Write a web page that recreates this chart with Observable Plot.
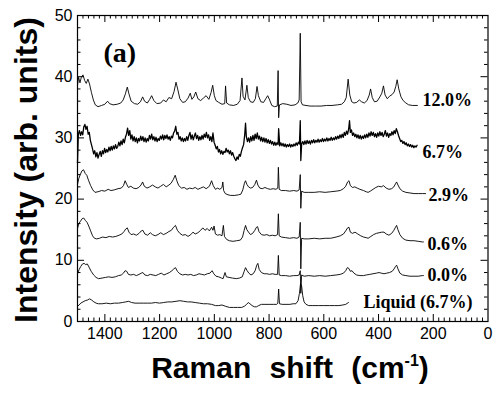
<!DOCTYPE html>
<html><head><meta charset="utf-8">
<script src="https://cdn.jsdelivr.net/npm/d3@7"></script>
<script src="https://cdn.jsdelivr.net/npm/@observablehq/plot@0.6"></script>
<style>body{margin:0;background:#fff;}</style>
</head><body><div id="chart"></div>
<script>
const trace12 = [[1500,38.6],[1496,39.9],[1491,39.0],[1486,39.9],[1480,40.3],[1474,39.4],[1468,38.9],[1462,39.6],[1456,38.8],[1449,37.4],[1442,36.2],[1435,35.4],[1425,35.1],[1412,35.3],[1400,35.5],[1390,36.0],[1383,35.6],[1370,35.4],[1355,35.5],[1342,35.7],[1333,36.2],[1325,37.2],[1318,38.3],[1312,37.2],[1304,36.0],[1292,35.6],[1280,35.5],[1270,35.9],[1262,36.7],[1255,36.0],[1245,35.7],[1236,36.3],[1229,36.9],[1221,36.1],[1210,35.6],[1196,35.7],[1186,36.2],[1176,35.9],[1166,36.6],[1156,36.4],[1147,37.6],[1140,39.1],[1134,38.0],[1126,36.4],[1116,35.8],[1106,35.9],[1096,36.5],[1088,37.3],[1082,36.3],[1075,36.7],[1068,37.5],[1060,36.4],[1050,36.1],[1040,36.5],[1030,36.9],[1020,36.3],[1012,37.4],[1006,38.6],[1000,36.9],[994,36.1],[984,35.8],[972,35.5],[962,35.6],[959,38.5],[955,35.7],[945,35.4],[930,35.3],[916,35.5],[906,36.1],[899,39.8],[895,36.8],[888,36.2],[881,38.6],[876,36.6],[868,35.9],[858,35.8],[850,36.4],[844,38.4],[839,36.9],[830,35.9],[820,35.8],[812,36.4],[805,36.9],[798,36.2],[790,35.3],[780,35.1],[770,35.2],[767,41.0],[765,33.3],[762,35.4],[750,35.6],[735,35.5],[720,35.3],[705,35.4],[695,35.7],[690,36.2],[686,47.1],[683,35.9],[678,35.4],[665,35.3],[650,35.2],[630,35.2],[610,35.2],[590,35.3],[570,35.3],[550,35.4],[535,35.5],[525,35.9],[518,36.6],[511,39.6],[505,37.0],[498,35.9],[490,35.7],[480,35.8],[470,36.2],[462,35.9],[452,35.7],[442,36.1],[434,37.0],[429,38.0],[423,36.6],[415,35.9],[405,36.0],[395,36.7],[388,37.3],[382,38.5],[376,37.0],[368,36.4],[360,36.8],[350,37.1],[343,37.5],[337,38.4],[332,39.5],[326,38.0],[318,36.7],[310,36.1],[300,35.7],[290,35.4],[275,35.3],[258,35.3]];

const trace67 = [[1500,25.9],[1497,30.6],[1493,31.2],[1489,30.4],[1485,31.0],[1481,30.5],[1477,31.8],[1473,32.2],[1469,31.4],[1465,31.9],[1461,30.6],[1457,30.9],[1453,29.6],[1449,28.9],[1445,28.2],[1441,27.4],[1437,27.9],[1433,26.9],[1429,27.6],[1425,26.7],[1421,27.3],[1417,27.8],[1413,27.0],[1409,27.9],[1405,27.4],[1401,28.3],[1397,27.6],[1393,28.1],[1389,27.7],[1385,28.5],[1381,27.9],[1377,28.6],[1373,28.0],[1369,28.7],[1365,28.2],[1361,28.9],[1357,28.3],[1353,28.6],[1349,29.3],[1345,28.7],[1341,29.5],[1337,28.9],[1333,29.8],[1329,29.2],[1325,30.1],[1321,30.6],[1317,31.6],[1313,30.4],[1309,31.2],[1305,29.8],[1301,30.5],[1297,29.5],[1293,30.2],[1289,29.4],[1285,30.0],[1281,29.2],[1277,29.9],[1273,29.5],[1269,30.3],[1265,29.6],[1261,30.2],[1257,29.4],[1253,30.0],[1249,29.3],[1245,29.9],[1241,29.5],[1237,30.4],[1233,29.8],[1229,30.6],[1225,29.7],[1221,30.2],[1217,29.5],[1213,30.1],[1209,29.4],[1205,29.9],[1201,29.6],[1197,30.3],[1193,29.8],[1189,30.5],[1185,29.7],[1181,30.4],[1177,29.9],[1173,30.5],[1169,29.8],[1165,30.2],[1161,29.6],[1157,30.3],[1153,30.0],[1149,30.8],[1145,31.1],[1141,31.9],[1137,30.6],[1133,30.9],[1129,29.8],[1125,30.2],[1121,29.5],[1117,30.0],[1113,29.4],[1109,29.9],[1105,29.5],[1101,30.2],[1097,29.6],[1093,30.4],[1089,30.9],[1085,29.8],[1081,30.5],[1077,29.7],[1073,30.3],[1069,30.8],[1065,29.9],[1061,30.4],[1057,29.6],[1053,30.2],[1049,29.7],[1045,30.4],[1041,29.8],[1037,30.6],[1033,30.1],[1029,30.9],[1025,30.0],[1021,30.5],[1017,29.6],[1013,30.2],[1009,29.4],[1005,30.8],[1001,29.3],[997,28.8],[993,28.2],[989,28.6],[985,27.7],[981,28.1],[977,27.4],[973,27.9],[969,27.3],[965,27.8],[961,27.6],[957,28.3],[953,27.7],[949,28.0],[945,27.4],[941,27.9],[937,27.2],[933,27.6],[929,27.0],[925,26.6],[921,26.3],[917,26.9],[913,26.5],[909,27.3],[905,27.0],[901,27.8],[897,28.4],[893,28.9],[889,30.5],[886,32.4],[883,30.2],[879,29.4],[875,30.0],[871,29.3],[867,30.2],[863,29.5],[859,30.4],[855,29.6],[851,30.6],[847,29.9],[843,30.8],[839,29.8],[835,30.3],[831,29.5],[827,30.1],[823,29.4],[819,30.0],[815,29.3],[811,29.9],[807,29.2],[803,29.7],[799,29.1],[795,29.6],[791,29.0],[787,29.4],[783,28.8],[779,29.3],[775,28.8],[771,29.2],[767,28.9],[765,31.5],[761,28.7],[757,29.2],[753,28.7],[749,29.1],[745,28.6],[741,29.0],[737,28.5],[733,28.9],[729,28.6],[725,29.0],[721,28.5],[717,28.9],[713,28.6],[709,29.0],[705,28.7],[701,29.2],[697,28.8],[693,29.3],[689,29.0],[686,32.8],[684,26.3],[681,29.0],[677,29.4],[673,28.9],[669,29.5],[665,29.0],[661,29.6],[657,29.1],[653,29.5],[649,29.0],[645,29.6],[641,29.2],[637,29.7],[633,29.2],[629,29.6],[625,29.3],[621,29.8],[617,29.3],[613,29.7],[609,29.4],[605,29.9],[601,29.4],[597,29.8],[593,29.5],[589,30.0],[585,29.5],[581,29.9],[577,29.6],[573,30.1],[569,29.6],[565,30.0],[561,29.7],[557,30.2],[553,29.8],[549,30.3],[545,29.9],[541,30.5],[537,30.0],[533,30.6],[529,30.1],[525,30.9],[521,30.4],[517,31.1],[513,30.6],[509,31.5],[506,32.8],[503,30.9],[499,31.3],[495,30.4],[491,30.8],[487,30.2],[483,30.6],[479,30.0],[475,30.5],[471,29.9],[467,30.4],[463,29.8],[459,30.3],[455,29.9],[451,30.5],[447,30.0],[443,30.6],[439,30.1],[435,30.8],[431,30.3],[427,31.0],[423,30.4],[419,30.9],[415,30.2],[411,30.7],[407,30.1],[403,30.8],[399,30.3],[395,31.0],[391,30.4],[387,30.9],[383,30.2],[379,30.6],[375,31.2],[371,30.3],[367,30.8],[363,30.1],[359,30.7],[355,30.4],[351,31.0],[347,30.5],[343,31.2],[339,30.7],[335,31.5],[331,31.0],[327,30.4],[323,29.9],[319,29.4],[315,29.6],[311,29.1],[307,29.4],[303,28.9],[299,29.2],[295,28.7],[291,29.0],[287,28.6],[283,28.9],[279,28.5],[275,28.8],[271,28.4],[267,28.7],[263,28.5],[259,28.8]];

const trace29 = [[1500,22.4],[1495,23.4],[1490,24.0],[1484,24.6],[1478,24.8],[1472,24.2],[1466,23.9],[1460,23.1],[1452,22.2],[1444,21.5],[1436,21.1],[1425,21.2],[1412,21.4],[1400,21.3],[1388,21.6],[1378,21.4],[1366,21.5],[1352,21.7],[1340,21.8],[1332,22.2],[1326,23.0],[1320,22.4],[1314,21.9],[1305,22.1],[1296,21.8],[1286,21.7],[1276,21.9],[1268,22.3],[1262,22.8],[1256,22.1],[1246,21.8],[1236,22.0],[1226,22.3],[1216,22.0],[1206,21.8],[1196,22.1],[1186,22.4],[1176,22.0],[1166,22.3],[1158,22.6],[1150,23.2],[1143,23.9],[1137,23.0],[1130,22.2],[1120,21.8],[1110,21.9],[1100,21.6],[1090,21.8],[1080,21.7],[1070,21.9],[1060,21.6],[1050,21.8],[1040,22.0],[1030,21.7],[1018,22.1],[1010,23.0],[1004,22.2],[996,21.6],[988,21.8],[980,21.6],[972,21.9],[969,22.8],[966,21.4],[960,20.9],[950,20.7],[940,20.6],[925,20.6],[912,20.7],[903,20.8],[896,21.5],[890,22.6],[886,23.0],[881,22.4],[875,22.0],[868,21.8],[860,21.9],[852,22.4],[846,23.1],[841,22.3],[834,21.8],[825,21.7],[815,21.9],[805,21.7],[795,21.6],[785,21.7],[775,21.6],[768,21.8],[766,25.2],[763,21.6],[755,21.4],[740,21.4],[725,21.3],[710,21.4],[698,21.3],[690,21.5],[686,24.0],[684,18.5],[681,21.3],[672,21.1],[655,21.1],[635,21.1],[615,21.2],[595,21.1],[575,21.2],[555,21.3],[540,21.4],[528,21.7],[520,22.1],[513,22.8],[508,23.0],[503,22.2],[495,21.9],[487,22.0],[478,21.8],[468,21.6],[455,21.4],[445,21.2],[438,21.1],[430,21.3],[420,21.6],[410,21.9],[400,22.1],[390,22.0],[382,22.2],[372,21.8],[362,21.6],[352,21.7],[344,22.0],[338,22.5],[334,22.8],[329,22.3],[322,21.7],[312,21.3],[300,21.1],[285,21.0],[270,20.9],[255,20.9],[240,20.9],[228,20.9]];

const trace06 = [[1500,15.2],[1495,16.0],[1489,16.4],[1483,16.8],[1477,16.9],[1471,16.5],[1465,16.2],[1459,15.6],[1452,14.8],[1445,14.0],[1438,13.6],[1430,13.5],[1420,13.6],[1408,13.8],[1396,13.7],[1384,13.9],[1372,13.8],[1360,13.9],[1348,14.1],[1338,14.3],[1330,14.7],[1324,15.1],[1318,15.3],[1312,14.6],[1304,14.2],[1295,14.3],[1285,14.1],[1275,14.4],[1267,14.8],[1261,14.9],[1254,14.3],[1244,14.1],[1234,14.5],[1226,14.2],[1216,14.0],[1206,14.2],[1196,14.5],[1186,14.2],[1176,14.4],[1166,14.7],[1157,14.9],[1149,15.4],[1142,15.7],[1135,14.9],[1126,14.4],[1116,14.1],[1106,14.2],[1096,13.9],[1086,14.2],[1078,14.6],[1070,14.3],[1060,14.5],[1050,14.9],[1042,15.3],[1034,14.9],[1026,15.2],[1018,14.8],[1010,15.4],[1005,14.9],[1001,15.6],[996,14.3],[988,14.1],[980,14.2],[972,14.0],[967,15.7],[963,13.9],[955,13.4],[945,13.2],[932,13.1],[918,13.2],[905,13.3],[897,13.8],[891,14.9],[886,15.7],[881,15.0],[875,14.6],[868,14.2],[860,14.4],[852,14.9],[846,15.4],[842,15.5],[837,14.7],[828,14.2],[818,14.1],[808,14.2],[798,14.0],[788,14.1],[778,14.0],[769,14.2],[766,17.6],[763,14.0],[755,13.8],[740,13.7],[725,13.6],[710,13.7],[698,13.6],[690,13.8],[686,16.2],[684,8.6],[681,13.6],[672,13.5],[655,13.5],[635,13.6],[615,13.5],[595,13.6],[575,13.6],[555,13.8],[540,14.0],[528,14.3],[520,14.8],[513,15.3],[508,15.4],[503,14.6],[495,14.4],[486,14.6],[476,14.3],[465,14.0],[455,13.8],[445,13.7],[438,13.6],[428,13.9],[418,14.2],[408,14.4],[398,14.5],[388,14.6],[380,14.6],[372,14.3],[362,14.1],[352,14.4],[344,14.9],[338,15.4],[334,15.7],[329,15.0],[322,14.2],[312,13.6],[300,13.3],[285,13.2],[270,13.2],[255,13.1],[240,13.0],[236,13.0]];

const trace00 = [[1500,7.8],[1494,8.5],[1488,9.0],[1482,9.4],[1476,9.5],[1470,9.3],[1464,9.4],[1458,8.9],[1450,8.2],[1441,7.6],[1432,7.2],[1423,7.0],[1410,7.1],[1398,7.2],[1386,7.3],[1374,7.2],[1362,7.3],[1350,7.5],[1340,7.6],[1332,7.9],[1326,8.3],[1320,8.2],[1314,7.7],[1305,7.6],[1295,7.7],[1285,7.5],[1275,7.7],[1267,7.9],[1261,8.0],[1254,7.6],[1244,7.5],[1234,7.7],[1224,7.6],[1214,7.5],[1204,7.7],[1194,7.9],[1184,7.6],[1174,7.8],[1164,8.0],[1155,8.3],[1148,8.6],[1142,8.8],[1135,8.2],[1126,7.8],[1116,7.6],[1106,7.7],[1096,7.6],[1086,7.7],[1076,7.5],[1066,7.6],[1056,7.8],[1046,7.7],[1036,7.6],[1026,7.8],[1016,7.9],[1008,8.3],[1002,7.8],[994,7.4],[984,7.3],[974,7.1],[968,7.0],[961,8.0],[956,7.3],[946,7.2],[934,7.1],[920,7.0],[908,7.1],[898,7.3],[891,8.2],[886,8.8],[880,8.3],[874,7.9],[866,7.6],[858,7.8],[851,8.3],[845,9.2],[841,9.5],[836,8.5],[828,8.0],[818,7.8],[808,7.8],[798,7.7],[788,7.8],[778,7.7],[769,7.7],[766,10.8],[763,7.6],[755,7.5],[740,7.5],[725,7.4],[710,7.5],[698,7.5],[690,7.6],[686,8.3],[684,4.6],[681,7.6],[672,7.4],[655,7.5],[635,7.4],[615,7.5],[595,7.4],[575,7.5],[555,7.6],[540,7.7],[528,7.9],[520,8.3],[514,8.8],[509,8.7],[503,8.2],[497,8.3],[490,7.9],[480,7.6],[468,7.5],[455,7.5],[445,7.6],[432,7.7],[420,7.8],[408,7.9],[398,8.0],[390,7.9],[380,7.8],[370,7.9],[360,8.0],[350,8.2],[343,8.6],[338,9.0],[334,9.2],[329,8.6],[322,7.9],[312,7.6],[300,7.5],[285,7.4],[270,7.4],[255,7.4],[240,7.5],[236,7.5]];

const traceLiquid = [[1500,2.5],[1494,2.7],[1488,3.0],[1480,3.2],[1472,3.4],[1464,3.5],[1456,3.7],[1448,3.5],[1440,3.2],[1432,3.0],[1424,2.9],[1410,2.9],[1395,3.0],[1380,2.9],[1365,3.0],[1350,3.0],[1336,3.1],[1324,3.2],[1313,3.3],[1302,3.1],[1290,3.0],[1275,3.0],[1260,3.0],[1245,3.0],[1230,3.0],[1215,3.1],[1200,3.0],[1185,3.1],[1170,3.2],[1155,3.2],[1140,3.3],[1126,3.4],[1112,3.3],[1098,3.2],[1085,3.2],[1070,3.1],[1055,3.0],[1040,2.9],[1025,2.9],[1010,2.8],[996,2.6],[984,2.6],[972,2.7],[960,2.5],[945,2.3],[930,2.3],[915,2.3],[900,2.3],[890,2.5],[882,2.8],[876,3.1],[870,2.9],[862,2.6],[854,2.4],[846,2.4],[838,2.6],[828,2.8],[815,2.8],[800,2.8],[785,2.8],[772,2.8],[768,3.0],[765,5.3],[762,2.9],[752,2.8],[738,2.8],[724,2.8],[712,2.9],[702,2.9],[694,3.4],[689,4.6],[685,6.2],[681,5.8],[677,4.2],[672,3.2],[665,2.8],[655,2.6],[640,2.6],[620,2.6],[600,2.6],[580,2.6],[560,2.6],[545,2.6],[530,2.7],[520,2.8],[510,3.1]];

const seriesNames = ["12.0%", "6.7%", "2.9%", "0.6%", "0.0%", "Liquid (6.7%)"];
const xTickLabels = [1400, 1200, 1000, 800, 600, 400, 200, 0];
const yTickLabels = [0, 10, 20, 30, 40, 50];
const panelTag = "(a)";
const xTitle = "Raman shift (cm";
const xTitleSup = "-1";
const yTitle = "Intensity (arb. units)";

// ---- build ----
const series = [trace12, trace67, trace29, trace06, trace00, traceLiquid];
const rows = series.flatMap((t, i) => t.map(([x, y]) => ({name: seriesNames[i], x, y})));
const W = 500, H = 394, mL = 77, mR = 12.5, mT = 15, mB = 73;
const plotW = W - mL - mR, plotH = H - mT - mB;
const xMajor = xTickLabels.filter(v => v > 0 && v < 1500);
const xMinor = d3.range(20, 1500, 20).filter(v => v % 200 !== 0);
const yMajor = yTickLabels.filter(v => v > 0 && v < 50);
const yMinor = d3.range(2, 50, 2).filter(v => v % 10 !== 0);
const labelSpots = [[239, 36.1], [239, 27.6], [217, 20.6], [221, 12.7], [221, 7.5], [455, 3.1]];
const annot = seriesNames.map((n, i) => ({n, x: labelSpots[i][0], y: labelSpots[i][1]}));
const serif = "'Liberation Serif', 'Times New Roman', serif";
const sans = "'Liberation Sans', Arial, Helvetica, sans-serif";

const svg = Plot.plot({
  width: W, height: H,
  marginLeft: mL, marginRight: mR, marginTop: mT, marginBottom: mB,
  x: {domain: [1500, 0], label: null},
  y: {domain: [0, 50], label: null},
  style: {fontFamily: sans, fontSize: "16px", color: "black", background: "white", overflow: "visible"},
  marks: [
    Plot.tickX(xMajor, {x: d => d, insetTop: plotH - 7, stroke: "black"}),
    Plot.tickX(xMajor, {x: d => d, insetBottom: plotH - 7, stroke: "black"}),
    Plot.tickX(xMinor, {x: d => d, insetTop: plotH - 3.5, stroke: "black"}),
    Plot.tickX(xMinor, {x: d => d, insetBottom: plotH - 3.5, stroke: "black"}),
    Plot.tickY(yMajor, {y: d => d, insetRight: plotW - 7, stroke: "black"}),
    Plot.tickY(yMajor, {y: d => d, insetLeft: plotW - 7, stroke: "black"}),
    Plot.tickY(yMinor, {y: d => d, insetRight: plotW - 3.5, stroke: "black"}),
    Plot.tickY(yMinor, {y: d => d, insetLeft: plotW - 3.5, stroke: "black"}),
    Plot.axisX(xTickLabels, {tickSize: 0, tickPadding: 6, label: null, tickFormat: d => String(d)}),
    Plot.axisY(yTickLabels, {tickSize: 0, tickPadding: 5, label: null, tickFormat: d => String(d)}),
    Plot.line(rows.filter(d => d.name !== "6.7%"), {x: "x", y: "y", z: "name", stroke: "black", strokeWidth: 0.9}),
    Plot.line(rows.filter(d => d.name === "6.7%"), {x: "x", y: "y", stroke: "black", strokeWidth: 1.3}),
    Plot.frame({stroke: "black", strokeWidth: 1.2}),
    Plot.text(annot, {x: "x", y: "y", text: "n", textAnchor: "start", fontFamily: serif, fontWeight: "bold", fontSize: 18, fill: "black"}),
    Plot.text([panelTag], {x: 1405, y: 43.8, text: d => d, textAnchor: "start", fontFamily: serif, fontWeight: "bold", fontSize: 28, fill: "black"})
  ]
});

const s = d3.select(svg);
s.append("text")
  .attr("transform", "translate(37,170) rotate(-90)")
  .attr("text-anchor", "middle")
  .attr("font-family", sans).attr("font-weight", "bold").attr("font-size", 32)
  .attr("fill", "black")
  .text(yTitle);
const t = s.append("text")
  .attr("x", 290).attr("y", 378)
  .attr("text-anchor", "middle")
  .attr("font-family", sans).attr("font-weight", "bold").attr("font-size", 30)
  .attr("word-spacing", 10)
  .attr("fill", "black");
t.append("tspan").text(xTitle);
t.append("tspan").attr("font-size", 16).attr("dy", -12).text(xTitleSup);
t.append("tspan").attr("dy", 12).text(")");

document.getElementById("chart").appendChild(svg);
</script>
</body></html>
